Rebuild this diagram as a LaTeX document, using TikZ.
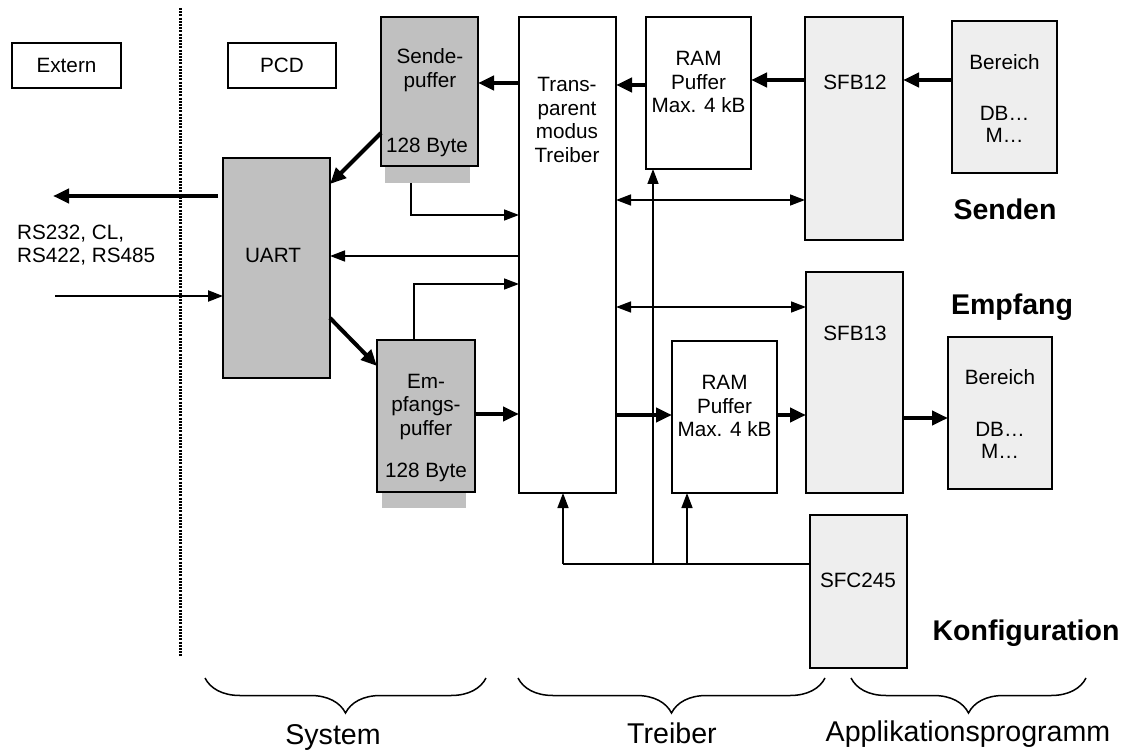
\documentclass[tikz,border=0pt]{standalone}
\usepackage{fontspec}
\setmainfont{Liberation Sans}
\usetikzlibrary{arrows.meta,decorations.pathreplacing}
\definecolor{boxgray}{RGB}{192,192,192}
\definecolor{dotgray}{RGB}{238,238,238}
\begin{document}
\begin{tikzpicture}[x=1pt,y=-1pt,
  box/.style={draw, line width=1.6pt, inner sep=0pt, outer sep=0pt, fill=white},
  gbox/.style={box, fill=boxgray},
  dbox/.style={box, fill=dotgray},
  txt/.style={font=\fontsize{20.7}{23.8}\selectfont, align=center, inner sep=0pt},
  big/.style={font=\fontsize{28.6}{32}\selectfont, inner sep=0pt},
  bigb/.style={font=\fontsize{28.5}{32}\selectfont\bfseries, inner sep=0pt},
  thinln/.style={line width=1.5pt},
  thinarr/.style={line width=1.5pt, -{Triangle[length=15pt,width=11pt]}},
  dblarr/.style={line width=1.5pt, {Triangle[length=15pt,width=11pt]}-{Triangle[length=15pt,width=11pt]}},
  thickarr/.style={line width=4pt, -{Triangle[length=16pt,width=14pt]}},
  bracestyle/.style={decorate, decoration={brace, mirror, amplitude=35pt}, line width=1.5pt}
]
\useasboundingbox (0,0) rectangle (1145,751);

% divider
\coordinate (dtop) at (180,8);
\coordinate (dbot) at (180,656);
\draw[line width=3pt, dash pattern=on 2pt off 1.2pt] (dtop) -- (dbot);

% header boxes
\node[box, minimum width=109pt, minimum height=45pt] (extern) at (66.5,65.5) {};
\node[txt] (externt) at (66.5,65.5) {Extern};
\node[box, minimum width=108pt, minimum height=45pt] (pcd) at (282,65.5) {};
\node[txt] (pcdt) at (282,65.5) {PCD};

% shadows
\fill[boxgray] (385,160) rectangle (470,183);
\fill[boxgray] (382,486) rectangle (466,508);
\coordinate (sendeout) at (411,183);

% boxes
\node[gbox, minimum width=97pt, minimum height=149pt] (sende) at (429.5,91.5) {};
\node[txt] (sendet) at (430,70) {Sende-\\puffer};
\node[txt] (sendeb) at (427,147) {128 Byte};

\node[box, minimum width=97pt, minimum height=476pt] (trans) at (567.5,255) {};
\node[txt] (transt) at (567,120) {Trans-\\parent\\modus\\Treiber};

\node[box, minimum width=105pt, minimum height=152pt] (ram1) at (698.5,93) {};
\node[txt] (ram1t) at (698.5,82) {RAM\\Puffer\\Max. 4 kB};

\node[dbox, minimum width=98pt, minimum height=223pt] (sfb12) at (854,128.5) {};
\node[txt] (sfb12t) at (855,82) {SFB12};

\node[dbox, minimum width=105pt, minimum height=152pt] (ber1) at (1004.5,97) {};
\node[txt] (ber1a) at (1004.5,62) {Bereich};
\node[txt, font=\fontsize{20.7}{22}\selectfont] (ber1b) at (1004.5,124) {DB…\\M…};
\node[bigb] (senden) at (1005,209) {Senden};

\node[gbox, minimum width=107pt, minimum height=220pt] (uart) at (276.5,268) {};
\node[txt] (uartt) at (273,255) {UART};
\node[txt, align=left, anchor=west, font=\fontsize{20.7}{23}\selectfont] (rs) at (17,245.5) {RS232, CL,\\RS422, RS485};

\node[gbox, minimum width=98pt, minimum height=152pt] (empf) at (426,416) {};
\node[txt] (empft) at (426,407) {Em-\\pfangs-\\puffer};
\node[txt] (empfb) at (426,472) {128 Byte};

\node[box, minimum width=105pt, minimum height=152pt] (ram2) at (724.5,417) {};
\node[txt] (ram2t) at (724.5,406) {RAM\\Puffer\\Max. 4 kB};

\node[dbox, minimum width=97pt, minimum height=221pt] (sfb13) at (854.5,382.5) {};
\node[txt] (sfb13t) at (855,333) {SFB13};
\node[bigb] (empfang) at (1012,307) {Empfang};

\node[dbox, minimum width=104pt, minimum height=152pt] (ber2) at (1000,413) {};
\node[txt] (ber2a) at (1000,377) {Bereich};
\node[txt, font=\fontsize{20.7}{22}\selectfont] (ber2b) at (1000,440) {DB…\\M…};

\node[dbox, minimum width=97pt, minimum height=153pt] (sfc) at (858.5,591.5) {};
\node[txt] (sfct) at (858,580) {SFC245};
\node[bigb] (konf) at (1026,633) {Konfiguration};

% external arrows
\coordinate (extout) at (53,196);
\coordinate (extin) at (55,296);
\draw[thickarr] (uart.west |- 0,196) ++(-5,0) -- (extout);
\draw[thinarr, line width=2.2pt] (extin) -- (uart.west |- 0,296);

% thick data arrows
\draw[thickarr] (trans.west |- 0,83) -- (sende.east |- 0,83);
\draw[thickarr] (ram1.west |- 0,85) -- (trans.east |- 0,85);
\draw[thickarr] (sfb12.west |- 0,80) -- (ram1.east |- 0,80);
\draw[thickarr] (ber1.west |- 0,80) -- (sfb12.east |- 0,80);
\draw[thickarr] (sende.west |- 0,133) -- (uart.east |- 0,184);
\draw[thickarr] (uart.east |- 0,318) -- (empf.west |- 0,366);
\draw[thickarr] (empf.east |- 0,414) -- (trans.west |- 0,414);
\draw[thickarr] (trans.east |- 0,415) -- (ram2.west |- 0,415);
\draw[thickarr] (ram2.east |- 0,415) -- (sfb13.west |- 0,415);
\draw[thickarr] (sfb13.east |- 0,418) -- (ber2.west |- 0,418);

% thin control arrows
\draw[thinarr] (sendeout) |- (trans.west |- 0,215);
\draw[thinarr] (trans.west |- 0,256) -- (uart.east |- 0,256);
\draw[thinarr] (empf.north -| 414,0) |- (trans.west |- 0,284);
\draw[dblarr] (trans.east |- 0,200) -- (sfb12.west |- 0,200);
\draw[dblarr] (trans.east |- 0,307) -- (sfb13.west |- 0,307);

% configuration lines
\coordinate (j1) at (563,564);
\coordinate (j2) at (653,564);
\coordinate (j3) at (687,564);
\draw[thinln] (sfc.west |- j1) -- (j1);
\draw[thinarr] (j1) -- (trans.south -| j1);
\draw[thinarr] (j2) -- (ram1.south -| j2);
\draw[thinarr] (j3) -- (ram2.south -| j3);

% braces
\coordinate (b1a) at (205,678); \coordinate (b1b) at (486,678);
\coordinate (b2a) at (518,678); \coordinate (b2b) at (825,678);
\coordinate (b3a) at (851,678); \coordinate (b3b) at (1086,678);
\draw[bracestyle] (b1a) -- (b1b);
\draw[bracestyle] (b2a) -- (b2b);
\draw[bracestyle] (b3a) -- (b3b);
\node[big] (sys) at (333,737) {System};
\node[big] (treib) at (672,733) {Treiber};
\node[big] (appl) at (968,734) {Applikationsprogramm};
\end{tikzpicture}
\end{document}
